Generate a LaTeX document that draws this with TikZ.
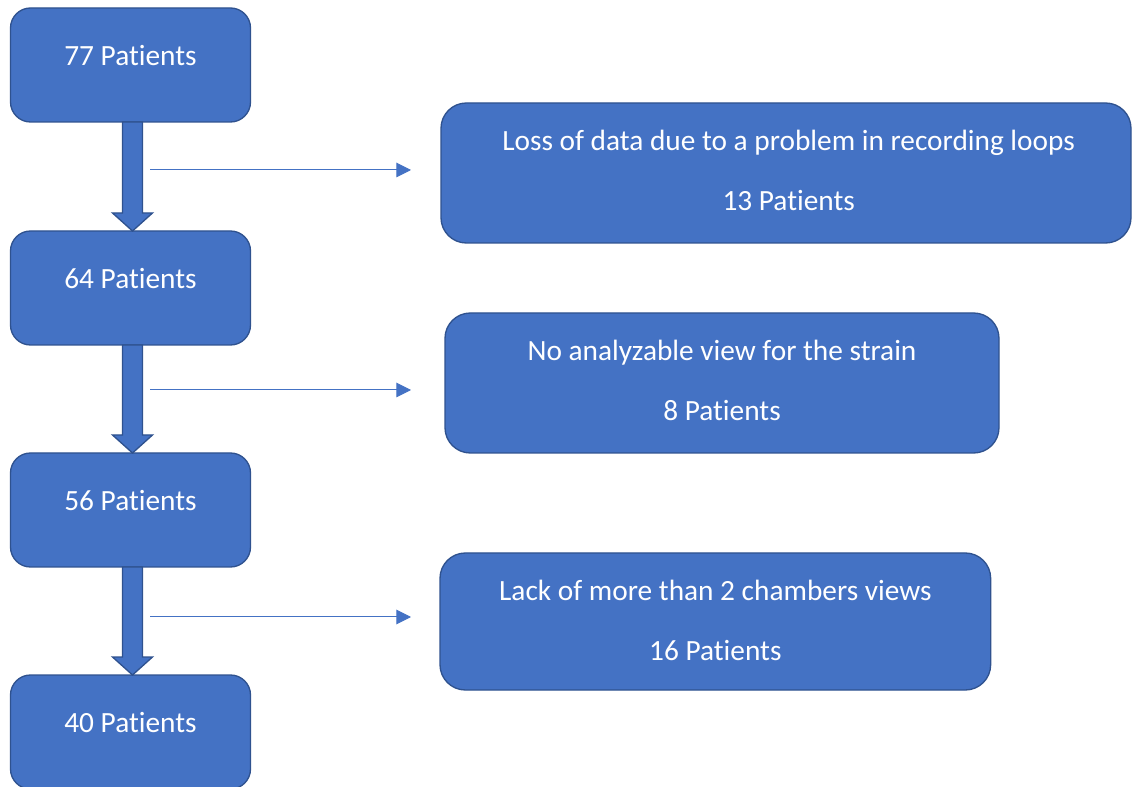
\documentclass[tikz,border=0pt]{standalone}
\usepackage{fontspec}
\setmainfont{Carlito}[Ligatures=NoCommon]
\usetikzlibrary{arrows.meta,calc,positioning}

\definecolor{boxblue}{HTML}{4472C4}
\definecolor{boxedge}{HTML}{2F528F}

\tikzset{
  patbox/.style={draw=boxedge, fill=boxblue, line width=1pt, rounded corners=15pt,
    text=white, inner sep=0pt, outer sep=0pt, minimum width=180pt, align=flush center,
    text height=43pt, text depth=42.5pt, font=\fontsize{22}{45}\selectfont},
  lossbox/.style={draw=boxedge, fill=boxblue, line width=1pt, rounded corners=19pt,
    text=white, inner sep=0pt, outer sep=0pt, align=flush center,
    text height=35.5pt, text depth=69.5pt, font=\fontsize{22}{45}\selectfont},
  thin/.style={draw=boxblue, line width=0.75pt, -{Triangle[length=11pt,width=11pt]}},
  fat/.style={draw=boxedge, fill=boxblue, line width=1pt}
}

\newcommand{\fatarrow}[2]{%
  \filldraw[fat] ($(#1.south)+(-8,0)$) -- ($(#2.north)+(-8,-18)$) -- ++(-10,0)
    -- ($(#2.north)+(2,0)$) -- ++(20,-18) -- ++(-10,0) -- ($(#1.south)+(12,0)$) -- cycle;}

\begin{document}
\begin{tikzpicture}[x=0.75pt, y=-0.75pt]
  \useasboundingbox (0,0) rectangle (1132,787);

  \node[patbox, anchor=north] (p77) at (130.5,8) {77 Patients};
  \node[patbox, below = 81.75pt of p77] (p64) {64 Patients};
  \node[patbox, below = 81pt of p64] (p56) {56 Patients};
  \node[patbox, below = 81pt of p56] (p40) {40 Patients};

  \node[lossbox, anchor=north west, text width=517.5pt] (loss1) at (441,103)
    {\hspace*{4pt}Loss of data due to a problem in recording loops\\\hspace*{4pt}13 Patients};
  \node[lossbox, anchor=north west, text width=415.5pt] (loss2) at (445,313)
    {No analyzable view for the strain\\8 Patients};
  \node[lossbox, anchor=north west, text width=413pt, text depth=67.25pt] (loss3) at (440,553)
    {Lack of more than 2 chambers views\\16 Patients};

  \fatarrow{p77}{p64}
  \fatarrow{p64}{p56}
  \fatarrow{p56}{p40}

  \coordinate (s1) at (150,170);
  \coordinate (e1) at (411,170);
  \coordinate (s2) at (150,390);
  \coordinate (e2) at (411,390);
  \coordinate (s3) at (150,617);
  \coordinate (e3) at (411,617);

  \draw[thin] (s1) -- (e1);
  \draw[thin] (s2) -- (e2);
  \draw[thin] (s3) -- (e3);

\end{tikzpicture}
\end{document}
